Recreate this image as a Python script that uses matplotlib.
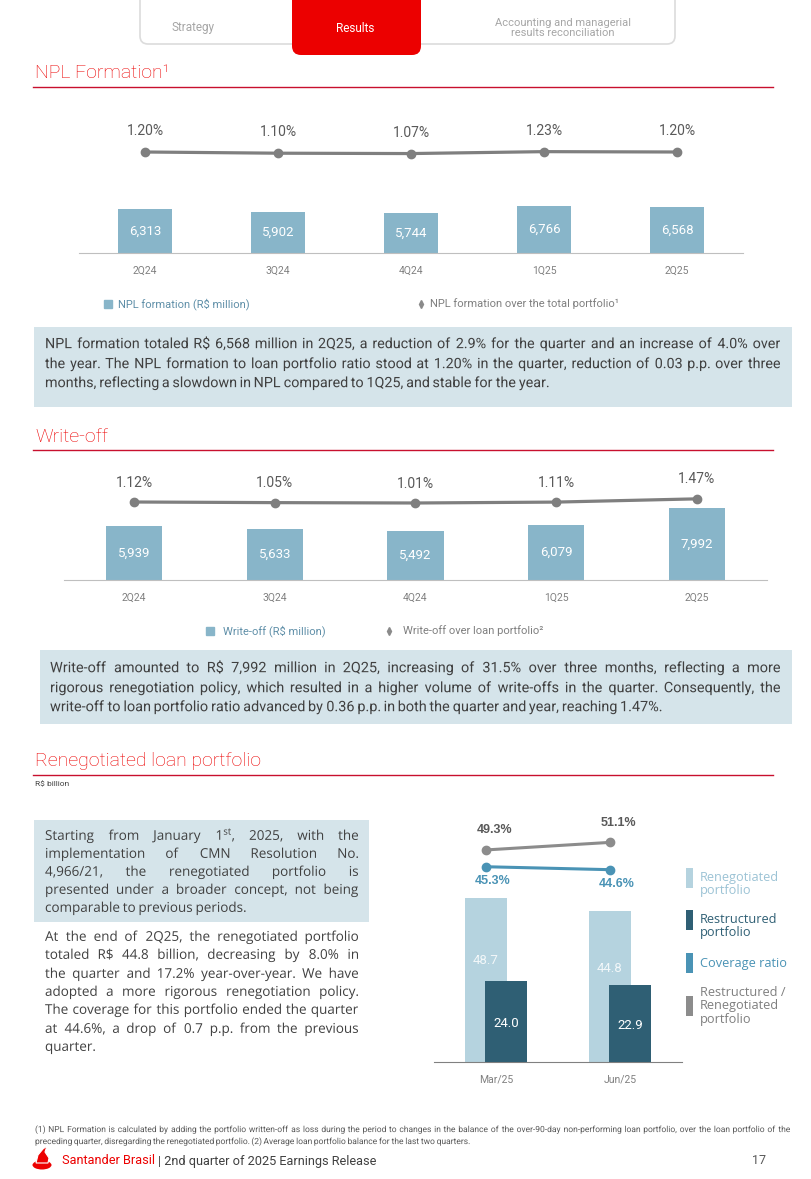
import matplotlib
matplotlib.use('Agg')
import matplotlib.pyplot as plt
from matplotlib.patches import FancyBboxPatch, Rectangle, Ellipse, Polygon, PathPatch
from matplotlib.lines import Line2D
from matplotlib.textpath import TextPath
from matplotlib.font_manager import FontProperties
from matplotlib.transforms import Affine2D

# ---------------- data ----------------
quarters = ['2Q24', '3Q24', '4Q24', '1Q25', '2Q25']
npl_formation = [6313, 5902, 5744, 6766, 6568]
npl_ratio = [1.20, 1.10, 1.07, 1.23, 1.20]
writeoff = [5939, 5633, 5492, 6079, 7992]
writeoff_ratio = [1.12, 1.05, 1.01, 1.11, 1.47]
periods = ['Mar/25', 'Jun/25']
renegotiated = [48.7, 44.8]
restructured = [24.0, 22.9]
coverage = [45.3, 44.6]
restr_share = [49.3, 51.1]

W, H = 812, 1179
plt.rcParams['font.family'] = ['Roboto', 'DejaVu Sans']
plt.rcParams['mathtext.fontset'] = 'custom'
plt.rcParams['mathtext.rm'] = 'Open Sans'
fig = plt.figure(figsize=(W / 100, H / 100), dpi=100)

RED = '#ec0000'
BAR = '#88b5c9'
GRAYLINE = '#7f7f7f'
TXT = '#404040'
BOX = '#d5e4ea'

bg = fig.add_axes([0, 0, 1, 1], zorder=0)
bg.set_xlim(0, W)
bg.set_ylim(H, 0)
bg.axis('off')


def rect(x0, y0, x1, y1):
    return [x0 / W, 1 - y1 / H, (x1 - x0) / W, (y1 - y0) / H]


# ---------------- header tabs ----------------
bg.add_patch(FancyBboxPatch((140, -20), 535, 64, boxstyle='round,pad=0,rounding_size=8',
                            fc='white', ec='#dcdcdc', lw=1.2))
bg.add_patch(FancyBboxPatch((292, -20), 129, 75, boxstyle='round,pad=0,rounding_size=9',
                            fc=RED, ec='none'))
bg.text(193, 28, 'Strategy', ha='center', va='center', color='#a6a6a6', fontsize=8.5)
bg.text(355, 28, 'Results', ha='center', va='center', color='white', fontsize=8.5)
bg.text(563, 28, 'Accounting and managerial\nresults reconciliation', ha='center', va='center',
        color='#a6a6a6', fontsize=8, linespacing=0.95)


def section(title, y_text, y_line):
    bg.text(35, y_text, title, ha='left', va='center', color=RED, fontsize=14, fontweight='light')
    bg.plot([33, 773], [y_line, y_line], color='#c8102e', lw=1)


section('NPL Formation¹', 73, 87)
section('Write-off', 437, 450)
section('Renegotiated loan portfolio', 761, 775)
bg.text(35, 784, 'R$ billion', ha='left', va='center', color=TXT, fontsize=6)

renderer = fig.canvas.get_renderer()


def justified(lines, x0, x1, ys, size, color, family):
    """Justified paragraph drawn word by word as glyph paths (exact common baseline)."""
    px = size / 0.72
    fp = FontProperties(family=family)
    dy = 0.36 * px
    space = TextPath((0, 0), 'a a', size=px, prop=fp).get_extents().x1 - \
        TextPath((0, 0), 'aa', size=px, prop=fp).get_extents().x1
    for k, (line, y) in enumerate(zip(lines, ys)):
        yb = y + dy
        words = line.split(' ')
        paths = [TextPath((0, 0), w, size=px, prop=fp) for w in words]
        ws = [p.get_extents().x1 for p in paths]
        if k == len(lines) - 1 or len(words) == 1:
            gap = space
        else:
            gap = (x1 - x0 - sum(ws)) / (len(words) - 1)
        x = x0
        for p, w in zip(paths, ws):
            tr = Affine2D().scale(1, -1).translate(x, yb) + bg.transData
            bg.add_patch(PathPatch(p, transform=tr, fc=color, ec='none', lw=0))
            x += w + gap


# ---------------- text boxes ----------------
bg.add_patch(Rectangle((34, 327), 758, 80, fc=BOX, ec='none'))
justified([
    'NPL formation totaled R$ 6,568 million in 2Q25, a reduction of 2.9% for the quarter and an increase of 4.0% over',
    'the year. The NPL formation to loan portfolio ratio stood at 1.20% in the quarter, reduction of 0.03 p.p. over three',
    'months, reflecting a slowdown in NPL compared to 1Q25, and stable for the year.'],
    45, 780, [343, 363, 382], 10.3, TXT, ['Roboto', 'DejaVu Sans'])

bg.add_patch(Rectangle((40, 650), 752, 74, fc=BOX, ec='none'))
justified([
    'Write-off amounted to R$ 7,992 million in 2Q25, increasing of 31.5% over three months, reflecting a more',
    'rigorous renegotiation policy, which resulted in a higher volume of write-offs in the quarter. Consequently, the',
    'write-off to loan portfolio ratio advanced by 0.36 p.p. in both the quarter and year, reaching 1.47%.'],
    50, 780, [667, 687, 706], 10.4, TXT, ['Roboto', 'DejaVu Sans'])

bg.add_patch(Rectangle((34, 820), 335, 102, fc=BOX, ec='none'))
justified([
    'Starting from January 1$^{\\mathrm{st}}$, 2025, with the',
    'implementation of CMN Resolution No.',
    '4,966/21, the renegotiated portfolio is',
    'presented under a broader concept, not being',
    'comparable to previous periods.'],
    45, 358, [835, 853, 871, 889, 907], 9.7, TXT, ['Open Sans', 'DejaVu Sans'])
justified([
    'At the end of 2Q25, the renegotiated portfolio',
    'totaled R$ 44.8 billion, decreasing by 8.0% in',
    'the quarter and 17.2% year-over-year. We have',
    'adopted a more rigorous renegotiation policy.',
    'The coverage for this portfolio ended the quarter',
    'at 44.6%, a drop of 0.7 p.p. from the previous',
    'quarter.'],
    45, 358, [936, 954, 973, 991, 1009, 1028, 1046], 9.7, TXT, ['Open Sans', 'DejaVu Sans'])


# ---------------- bar + line charts ----------------
def bar_line(x0, x1, ytop, ybase, units_per_px, bars, ratios, ratio_ref, ratio_ref_px, px_per_pct,
             width, lab_off):
    ax = fig.add_axes(rect(x0, ytop, x1, ybase), zorder=2)
    ax.set_facecolor('none')
    n = len(bars)
    ax.set_xlim(-0.5, n - 0.5)
    ax.set_ylim(0, (ybase - ytop) * units_per_px)
    xs = list(range(n))
    ax.bar(xs, bars, width=width, color=BAR, zorder=2)
    for x, v in zip(xs, bars):
        ax.text(x, v / 2, f'{v:,}', ha='center', va='center', color='white', fontsize=9.5)
    for s in ['top', 'left', 'right']:
        ax.spines[s].set_visible(False)
    ax.spines['bottom'].set_color('#bfbfbf')
    ax.set_yticks([])
    ax.set_xticks(xs)
    ax.set_xticklabels(quarters, color='#808080', fontsize=7.5)
    ax.tick_params(axis='x', length=0, pad=9)
    ax2 = ax.twinx()
    ax2.set_facecolor('none')
    lo = ratio_ref - (ybase - ratio_ref_px) / px_per_pct
    hi = ratio_ref + (ratio_ref_px - ytop) / px_per_pct
    ax2.set_ylim(lo, hi)
    ax2.axis('off')
    ax2.plot(xs, ratios, color=GRAYLINE, lw=2.3, marker='o', ms=6, zorder=3)
    for x, v in zip(xs, ratios):
        ax2.annotate(f'{v:.2f}%', (x, v), xytext=(0, lab_off), textcoords='offset points',
                     ha='center', va='center', color='#595959', fontsize=10)
    return ax


bar_line(78.5, 743.5, 115, 253, 143.5, npl_formation, npl_ratio, 1.20, 152, 12, 0.41, 15)
bar_line(63.7, 767.2, 462, 580, 111, writeoff, writeoff_ratio, 1.12, 502, 9, 0.40, 14)


# legends
def legend_item(x_mark, x_text, y, marker, mcolor, text, tcolor, ms):
    fig.add_artist(Line2D([x_mark / W], [1 - y / H], marker=marker, color=mcolor, ms=ms,
                          ls='none', transform=fig.transFigure))
    bg.text(x_text, y, text, ha='left', va='center', color=tcolor, fontsize=8)


legend_item(108, 118, 304, 's', BAR, 'NPL formation (R$ million)', '#5f8fa8', 5.5)
legend_item(421, 430, 304, 'd', '#8a8a8a', 'NPL formation over the total portfolio¹', '#7f7f7f', 4)
legend_item(210, 223, 631, 's', BAR, 'Write-off (R$ million)', '#5f8fa8', 5.5)
legend_item(389, 403, 631, 'd', '#8a8a8a', 'Write-off over loan portfolio²', '#7f7f7f', 4)

# ---------------- renegotiated chart ----------------
LIGHT = '#b5d3df'
DARK = '#2f5f74'
COV = '#4a93b5'
SHR = '#8c8c8c'
ytop, ybase = 812, 1062
ax = fig.add_axes(rect(434, ytop, 682, ybase), zorder=2)
ax.set_facecolor('none')
ax.set_xlim(-0.5, 1.5)
ax.set_ylim(0, (ybase - ytop) / 3.36)
xs = [0, 1]
off = 10 / 124
bw = 42 / 124
ax.bar([x - off for x in xs], renegotiated, width=bw, color=LIGHT, zorder=2)
ax.bar([x + off for x in xs], restructured, width=bw, color=DARK, zorder=3)
for x, v in zip(xs, renegotiated):
    ax.text(x - off, v * 0.62, f'{v:.1f}', ha='center', va='center', color='#f2f7f9', fontsize=9.5, zorder=4)
for x, v in zip(xs, restructured):
    ax.text(x + off, v * 0.48, f'{v:.1f}', ha='center', va='center', color='white', fontsize=9.5, zorder=4)
for s in ['top', 'left', 'right']:
    ax.spines[s].set_visible(False)
ax.spines['bottom'].set_color('#808080')
ax.set_yticks([])
ax.set_xticks(xs)
ax.set_xticklabels(periods, color='#808080', fontsize=7.5)
ax.tick_params(axis='x', length=0, pad=9)
ax2 = ax.twinx()
ax2.set_facecolor('none')
ax2.set_ylim(-(ybase - 1057) / 4.2, (1057 - ytop) / 4.2)
ax2.axis('off')
lx = [x - off for x in xs]
ax2.plot(lx, restr_share, color=SHR, lw=2.2, marker='o', ms=6, zorder=5)
ax2.plot(lx, coverage, color=COV, lw=2.2, marker='o', ms=6, zorder=5)
for x, v in zip(lx, restr_share):
    ax2.annotate(f'{v:.1f}%', (x, v), xytext=(6, 14), textcoords='offset points', ha='center',
                 va='center', color='#595959', fontsize=9, fontweight='bold', family=['Liberation Sans'])
for x, v in zip(lx, coverage):
    ax2.annotate(f'{v:.1f}%', (x, v), xytext=(5, -10), textcoords='offset points', ha='center',
                 va='center', color=COV, fontsize=9, fontweight='bold', family=['Liberation Sans'])

leg = [(868, LIGHT, 'Renegotiated\nportfolio', '#9cc3d5', 884),
       (910, DARK, 'Restructured\nportfolio', DARK, 926),
       (953, COV, 'Coverage ratio', COV, 963),
       (996, SHR, 'Restructured /\nRenegotiated\nportfolio', '#7f7f7f', 1006)]
for y0, c, t, tc, yt in leg:
    bg.add_patch(Rectangle((686, y0), 7, 20, fc=c, ec='none'))
    bg.text(700, yt, t, ha='left', va='center', color=tc, fontsize=9.2, linespacing=1.05,
            family=['Open Sans', 'DejaVu Sans'])

# ---------------- footnote & footer ----------------
justified([
    '(1) NPL Formation is calculated by adding the portfolio written-off as loss during the period to changes in the balance of the over-90-day non-performing loan portfolio, over the loan portfolio of the',
    'preceding quarter, disregarding the renegotiated portfolio. (2) Average loan portfolio balance for the last two quarters.'],
    35, 790, [1129, 1141], 6.1, '#595959', ['Roboto', 'DejaVu Sans'])

bg.add_patch(Ellipse((42, 1165), 19, 9, fc=RED, ec='none'))
bg.add_patch(Polygon([(36, 1163), (38, 1155), (43, 1149), (47, 1146), (45, 1152), (49, 1158),
                      (48, 1163)], closed=True, fc=RED, ec='white', lw=0.8))
t1 = bg.text(62, 1161, 'Santander Brasil', ha='left', va='center', color=RED, fontsize=9.2)
w1 = t1.get_window_extent(renderer).width
bg.text(62 + w1 + 3, 1161, '| 2nd quarter of 2025 Earnings Release', ha='left', va='center',
        color=TXT, fontsize=9.2)
bg.text(766, 1161, '17', ha='right', va='center', color='#595959', fontsize=9)

fig.savefig('out.png', dpi=100)
